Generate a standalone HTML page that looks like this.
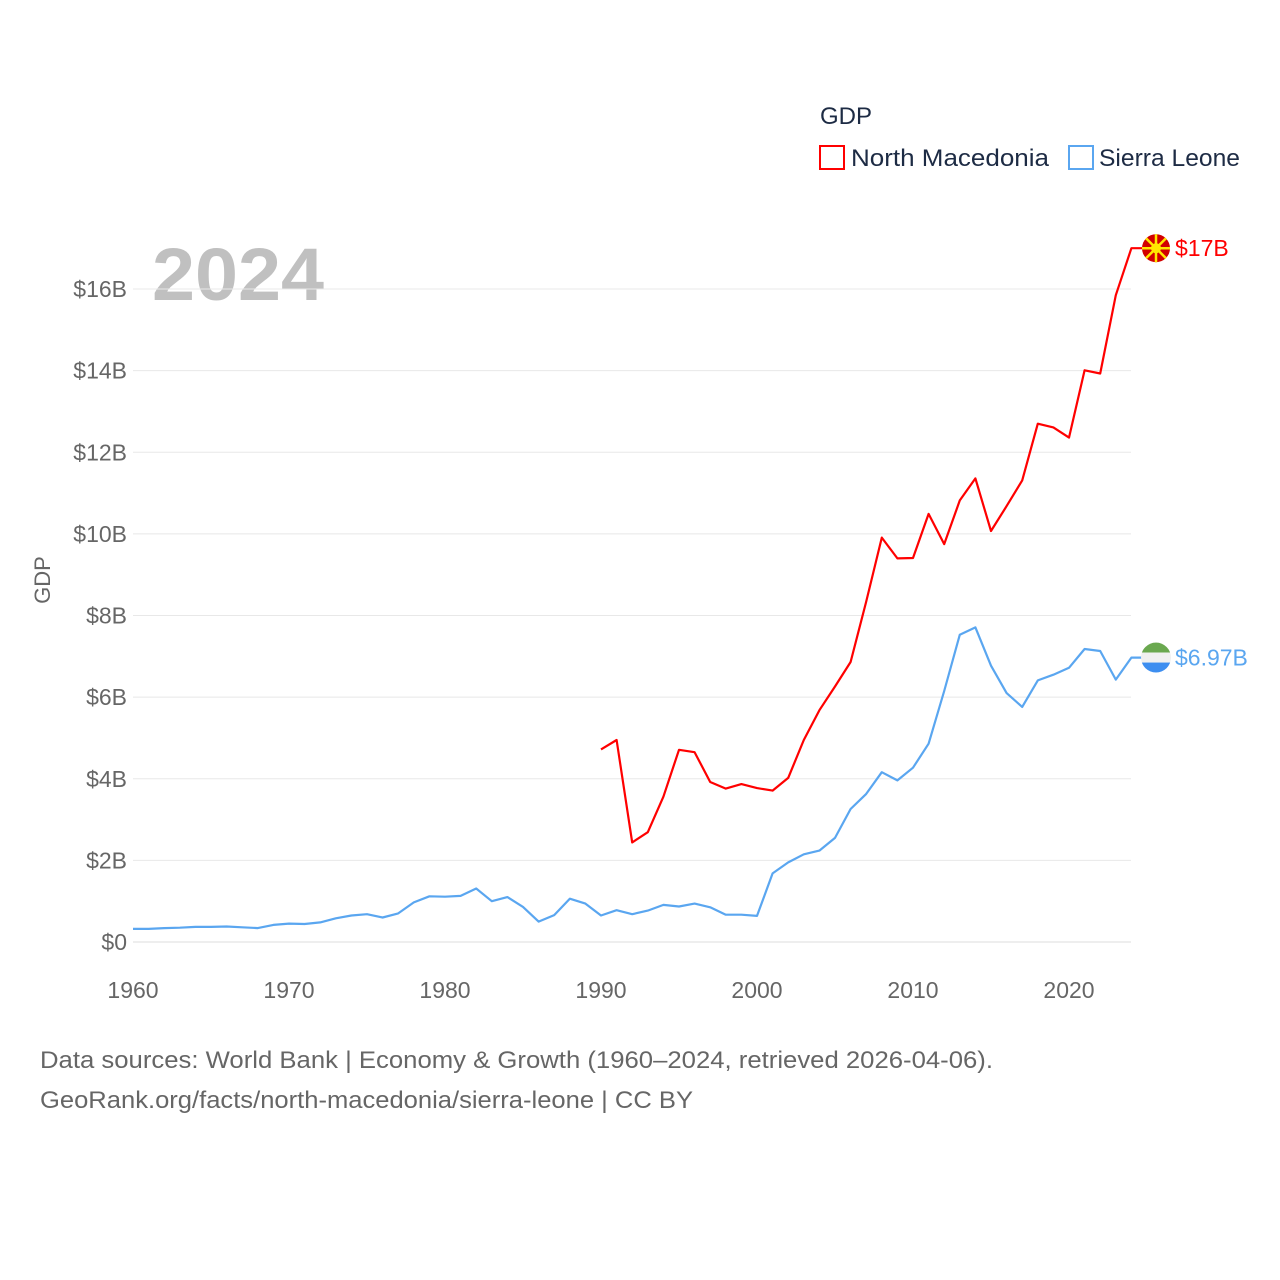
<!DOCTYPE html>
<html><head><meta charset="utf-8"><style>
body{margin:0;background:#fff;}
svg{display:block;font-family:"Liberation Sans",sans-serif;}
</style></head><body>
<svg id="chart" width="1280" height="1280" viewBox="0 0 1280 1280">
<text x="820" y="124" font-size="24" fill="#1d2b44">GDP</text>
<g><rect x="820" y="146" width="24" height="23" fill="none" stroke="#f00" stroke-width="2"/><text x="851" y="166" font-size="24" fill="#1d2b44" textLength="198" lengthAdjust="spacingAndGlyphs">North Macedonia</text></g>
<g><rect x="1069" y="146" width="24" height="23" fill="none" stroke="#5aa6f0" stroke-width="2"/><text x="1099" y="166" font-size="24" fill="#1d2b44" textLength="141" lengthAdjust="spacingAndGlyphs">Sierra Leone</text></g>
<text x="152" y="300" font-size="74" font-weight="bold" fill="#c0c0c0" textLength="172" lengthAdjust="spacingAndGlyphs">2024</text>
<text transform="translate(50,580) rotate(-90)" text-anchor="middle" font-size="22" fill="#666">GDP</text>
<g id="grid"></g><g id="series"></g>
<text x="40" y="1068" font-size="24" fill="#666" textLength="953" lengthAdjust="spacingAndGlyphs">Data sources: World Bank | Economy &amp; Growth (1960–2024, retrieved 2026-04-06).</text>
<text x="40" y="1108" font-size="24" fill="#666" textLength="653" lengthAdjust="spacingAndGlyphs">GeoRank.org/facts/north-macedonia/sierra-leone | CC BY</text>
</svg>
<script>
const yTicks=[0,2,4,6,8,10,12,14,16];
const xTicks=[1960,1970,1980,1990,2000,2010,2020];
const slYears=[];for(let y=1960;y<=2024;y++)slYears.push(y);
const slValues=[0.32,0.32,0.34,0.35,0.37,0.37,0.38,0.36,0.34,0.42,0.45,0.44,0.48,0.58,0.65,0.68,0.60,0.70,0.97,1.12,1.11,1.13,1.31,1.00,1.10,0.86,0.50,0.66,1.06,0.94,0.65,0.78,0.68,0.77,0.91,0.87,0.94,0.85,0.67,0.67,0.64,1.68,1.95,2.15,2.24,2.55,3.26,3.63,4.16,3.96,4.27,4.86,6.15,7.53,7.71,6.77,6.10,5.76,6.41,6.55,6.72,7.18,7.13,6.43,6.97];
const mkYears=[];for(let y=1990;y<=2024;y++)mkYears.push(y);
const mkValues=[4.72,4.95,2.44,2.69,3.56,4.71,4.65,3.92,3.76,3.87,3.77,3.71,4.02,4.95,5.68,6.26,6.86,8.34,9.91,9.40,9.41,10.49,9.75,10.82,11.36,10.07,10.68,11.31,12.70,12.61,12.36,14.01,13.93,15.85,17.0];
const X=y=>133+(y-1960)*15.6, Y=v=>942-v*40.81;
const NS="http://www.w3.org/2000/svg";
const grid=document.getElementById('grid'),ser=document.getElementById('series');
function el(t,a,p){const e=document.createElementNS(NS,t);for(const k in a)e.setAttribute(k,a[k]);p.appendChild(e);return e;}
yTicks.forEach(v=>{
 const l=el('line',{x1:133,x2:1131,y1:Y(v),y2:Y(v),stroke:v?'#e8e8e8':'#ddd','stroke-width':1},grid);
 
 
 const t=el('text',{x:127,y:Y(v)+8,'text-anchor':'end','font-size':23,fill:'#666'},grid);t.textContent='$'+v+(v?'B':'');
 
 
});
xTicks.forEach(v=>{
 const t=el('text',{x:X(v),y:998,'text-anchor':'middle','font-size':23,fill:'#666'},grid);t.textContent=v;
 
 
});
function line(ys,vs,c,name){
 const last=vs[vs.length-1];
 const p=el('path',{d:vs.map((v,i)=>(i?'L':'M')+X(ys[i]).toFixed(1)+','+Y(v).toFixed(1)).join('')+'L1142,'+Y(last).toFixed(1),fill:'none',stroke:c,'stroke-width':2.2,'stroke-linejoin':'round'},ser);
 
 
}
line(slYears,slValues,'#5aa6f0','sierra-leone-line');
line(mkYears,mkValues,'#f00','north-macedonia-line');
const mv=mkValues[mkValues.length-1],sv=slValues[slValues.length-1];
const mc=el('circle',{cx:1156,cy:Y(mv),r:14,fill:'#d20000'},ser);


el('circle',{cx:1156,cy:Y(mv),r:5,fill:'#ffe600'},ser);
for(let a=0;a<8;a++){const r=a*Math.PI/4;el('line',{x1:1156,y1:Y(mv),x2:1156+14*Math.cos(r),y2:Y(mv)+14*Math.sin(r),stroke:'#ffe600','stroke-width':2.5},ser);}
const g=el('g',{},ser);
const cy=Y(sv);
el('clipPath',{id:'cp'},g);document.getElementById('cp').appendChild(document.createElementNS(NS,'circle'));
const cc=document.querySelector('#cp circle');cc.setAttribute('cx',1156);cc.setAttribute('cy',cy);cc.setAttribute('r',15);
el('rect',{x:1140,y:cy-15,width:32,height:10,fill:'#6aa84f','clip-path':'url(#cp)'},g);
el('rect',{x:1140,y:cy-5,width:32,height:10,fill:'#f0f0f0','clip-path':'url(#cp)'},g);
el('rect',{x:1140,y:cy+5,width:32,height:10,fill:'#3d8ef0','clip-path':'url(#cp)'},g);
const t1=el('text',{x:1175,y:Y(mv)+8,'font-size':23,fill:'#f00'},ser);t1.textContent='$'+mv+'B';

const t2=el('text',{x:1175,y:cy+8,'font-size':23,fill:'#5aa6f0'},ser);t2.textContent='$'+sv+'B';

</script>
</body></html>
